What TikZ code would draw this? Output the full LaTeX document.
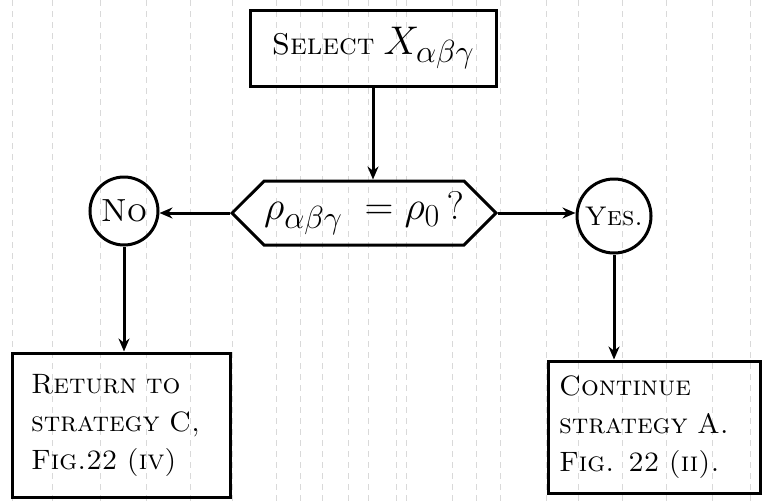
\RequirePackage{fix-cm}
\documentclass[tikz,border=0pt]{standalone}
\usetikzlibrary{arrows.meta,shapes.symbols}
\newcommand{\bigsub}[1]{\mbox{\fontsize{32}{34}\selectfont$#1$}}
\begin{document}
\begin{tikzpicture}[x=1pt,y=-1pt,
  line width=3pt,
  box/.style={draw, rectangle, inner sep=0pt},
  hexa/.style={draw, signal, signal to=west and east, signal pointer angle=90, inner sep=0pt},
  ans/.style={draw, circle, inner sep=0pt},
  seltxt/.style={font=\fontsize{30}{36}\selectfont},
  mathtxt/.style={font=\fontsize{40}{44}\selectfont},
  boxtxt/.style={font=\fontsize{28}{38}\selectfont},
  flow/.style={-{Stealth[length=13pt,width=11pt]}},
  paper/.style={gray!30, line width=0.8pt, dash pattern=on 6pt off 5pt}]
\useasboundingbox (0,0) rectangle (762,501);
% faint graph-paper rulings
\foreach \x in {12,52,100,146,190,232,276,300,322,348,368,396,406,452,476,500,546,578,622,666,712,750}
  \draw[paper] (\x,0) -- (\x,501);
\node[box, minimum width=246pt, minimum height=76pt, seltxt] (sel) at (373,48)
  {\textsc{Select} {\fontsize{40}{44}\selectfont$X_{\bigsub{\alpha\beta\gamma}}$}};
\node[hexa, minimum width=260pt, minimum height=64pt, mathtxt] (hex) at (364,213)
  {$\rho_{\bigsub{\alpha\beta\gamma}}\;=\rho_{\bigsub{0}}\,?$};
\node[ans, minimum size=68pt, font=\fontsize{32}{36}\selectfont] (no) at (124,211) {\textsc{No}};
\node[ans, minimum size=74pt, font=\fontsize{27}{30}\selectfont] (yes) at (614,216) {\textsc{Yes.}};
\node[box, minimum width=218pt, minimum height=144pt, boxtxt, align=left, text width=180pt] (ret) at (121,425)
  {\textsc{Return to}\\ \textsc{strategy C,}\\ \textsc{Fig.22 (iv)}};
\node[box, minimum width=212pt, minimum height=132pt, boxtxt, align=left, text width=190pt] (cont) at (654,427)
  {\textsc{Continue}\\ \textsc{strategy A.}\\ \textsc{Fig. 22 (ii).}};
\draw[flow] (sel.south) -- (sel.south |- hex.north);
\draw[flow] (hex.west) -- (hex.west -| no.east);
\draw[flow] (hex.east) -- (hex.east -| yes.west);
\draw[flow] (no.south) -- (no.south |- ret.north);
\draw[flow] (yes.south) -- (yes.south |- cont.north);
\end{tikzpicture}
\end{document}
